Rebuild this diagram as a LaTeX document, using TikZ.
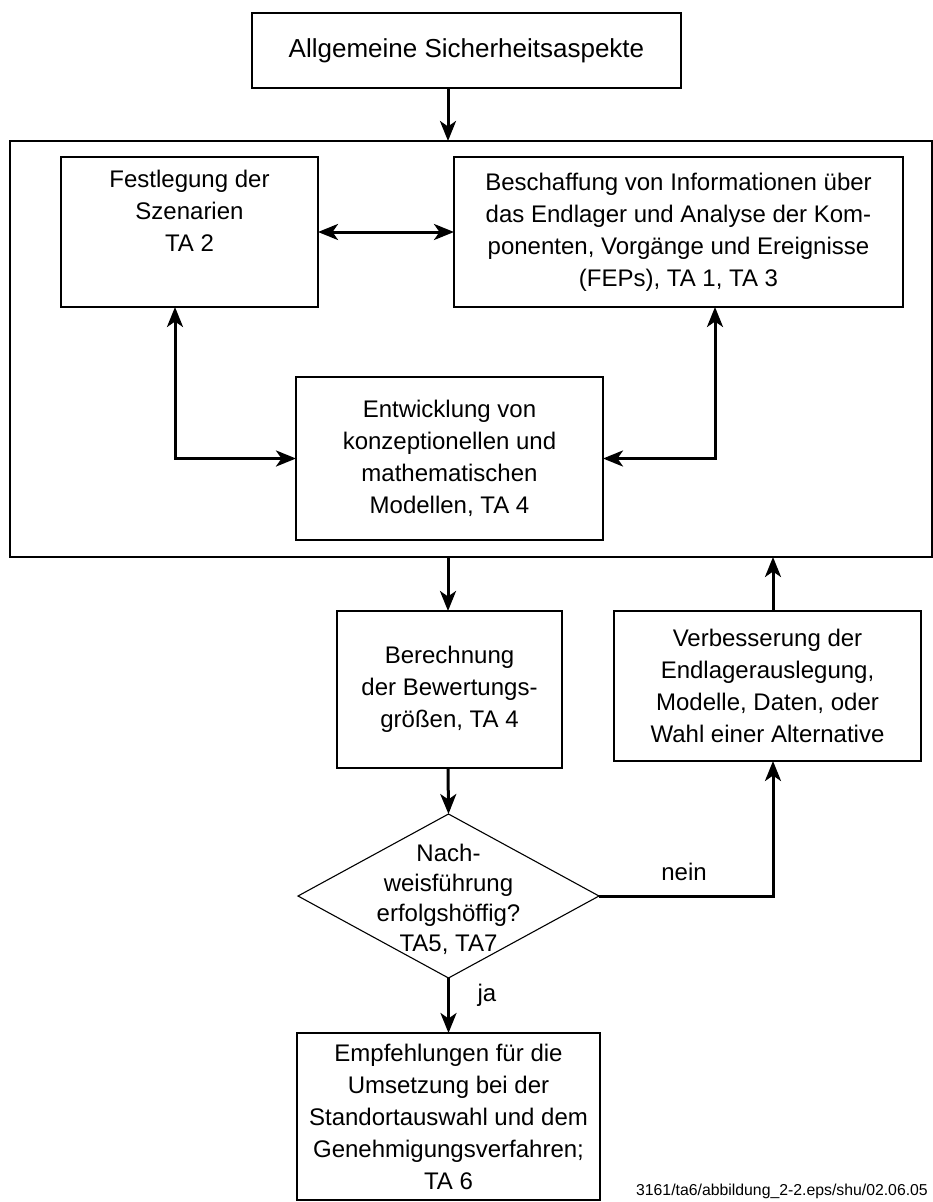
\documentclass[tikz,border=0pt]{standalone}
\usepackage{fontspec}
\setmainfont{Liberation Sans}
\usetikzlibrary{arrows.meta,shapes.geometric}
\newcommand\fsz{\fontsize{24}{32}\selectfont}
\begin{document}
\begin{tikzpicture}[x=1pt,y=-1pt,
  box/.style={draw, line width=1.6pt, align=center, font=\fsz, inner sep=0pt, outer sep=0pt},
  dia/.style={draw, shape=diamond, line width=1.1pt, inner sep=0pt, outer sep=0pt},
  lbl/.style={font=\fsz, inner sep=0pt},
  arr/.style={line width=3pt, -{Stealth[length=20pt,width=16pt,inset=5.5pt]}},
  darr/.style={line width=3pt, {Stealth[length=20pt,width=16pt,inset=5.5pt]}-{Stealth[length=20pt,width=16pt,inset=5.5pt]}}
]
\useasboundingbox (0,0) rectangle (933,1202);
% coordinates for connector x positions
\coordinate (cx) at (448,0);
\coordinate (cl) at (175,0);
\coordinate (cr) at (715,0);
\coordinate (cv) at (773,0);
% nodes
\node[box, minimum width=429pt, minimum height=75pt, font=\fontsize{26}{32}\selectfont] (top) at (466.5,50.5) {Allgemeine Sicherheitsaspekte};
\node[box, minimum width=922pt, minimum height=416pt] (big) at (471,349) {};
\node[box, minimum width=257pt, minimum height=150pt] (fest) at (189.5,232) {Festlegung der\\Szenarien\\TA 2\\\strut};
\node[box, minimum width=449pt, minimum height=150pt] (besch) at (678.5,232) {Beschaffung von Informationen über\\das Endlager und Analyse der Kom-\\ponenten, Vorgänge und Ereignisse\\(FEPs), TA 1, TA 3};
\node[box, minimum width=307pt, minimum height=163pt] (entw) at (449.5,458.5) {Entwicklung von\\konzeptionellen und\\mathematischen\\Modellen, TA 4};
\node[box, minimum width=225pt, minimum height=157pt] (berech) at (449.5,689.5) {Berechnung\\der Bewertungs-\\größen, TA 4};
\node[box, minimum width=307pt, minimum height=150pt] (verb) at (767.5,686) {Verbesserung der\\Endlagerauslegung,\\Modelle, Daten, oder\\Wahl einer Alternative};
\node[dia, minimum width=301pt, minimum height=164pt] (dec) at (448.5,896) {};
\node[lbl, align=center, font=\fontsize{24}{30}\selectfont] (dect) at (448.5,899) {Nach-\\weisführung\\erfolgshöffig?\\TA5, TA7};
\node[box, minimum width=303pt, minimum height=167pt] (emp) at (448.5,1116.5) {Empfehlungen für die\\Umsetzung bei der\\Standortauswahl und dem\\Genehmigungsverfahren;\\TA 6};
\node[lbl] (nein) at (684,872) {nein};
\node[lbl] (ja) at (487,995) {ja};
\node[inner sep=0pt, anchor=base east, font=\fontsize{15.8}{18}\selectfont] (fn) at (928,1195) {3161/ta6/abbildung\_2-2.eps/shu/02.06.05};
% connectors
\draw[arr] (top.south -| cx) -- (big.north -| cx);
\draw[darr] (fest.east) -- (besch.west);
\draw[darr] (fest.south -| cl) |- (entw.west);
\draw[darr] (besch.south -| cr) |- (entw.east);
\draw[arr] (big.south -| cx) -- (berech.north -| cx);
\draw[arr] (verb.north -| cv) -- (big.south -| cv);
\draw[arr] (berech.south -| cx) -- (dec.north);
\draw[arr] (dec.east) -| (verb.south -| cv);
\draw[arr] (dec.south) -- (emp.north -| dec.south);
\end{tikzpicture}
\end{document}
